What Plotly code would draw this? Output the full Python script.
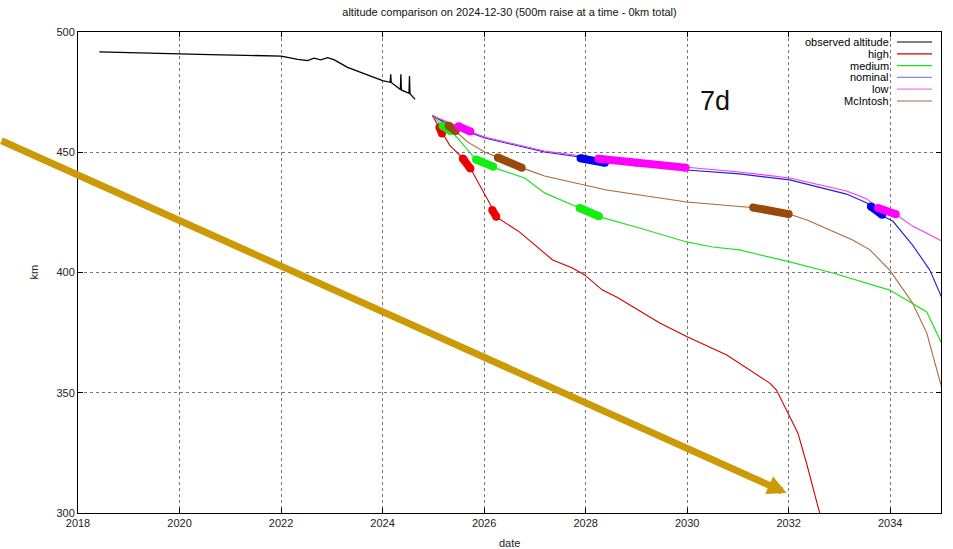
import plotly.graph_objects as go

# ---------------- data (decimal years, km) ----------------
obs_x = [2018.42, 2018.9, 2019.5, 2019.96, 2020.6, 2021.3, 2022.0, 2022.33, 2022.52, 2022.65, 2022.78,
         2022.92, 2023.05, 2023.31, 2023.70, 2024.0, 2024.15, 2024.16, 2024.17, 2024.35, 2024.36, 2024.37,
         2024.52, 2024.53, 2024.54, 2024.64]
obs_y = [491.7, 491.4, 491.2, 490.9, 490.6, 490.3, 490.0, 488.6, 488.1, 489.1, 488.4,
         489.3, 488.4, 485.3, 482.1, 479.8, 479.1, 482.4, 479.0, 476.1, 482.4, 475.9,
         474.5, 481.7, 474.3, 472.0]

high_x = [2024.985, 2025.12, 2025.32, 2025.56, 2025.75, 2025.91, 2026.07, 2026.27, 2026.70, 2027.35,
          2027.74, 2027.98, 2028.33, 2028.61, 2029.46, 2030.01, 2030.78, 2031.62, 2031.76, 2032.02,
          2032.18, 2032.35, 2032.61, 2032.71]
high_y = [465.1, 460.1, 453.0, 448.0, 442.6, 436.4, 430.1, 422.7, 416.8, 405.2,
          401.9, 399.0, 392.7, 389.8, 379.0, 373.2, 365.7, 354.1, 351.1, 339.9,
          333.3, 320.8, 300.0, 288.8]

medium_x = [2024.985, 2025.16, 2025.36, 2025.48, 2025.81, 2026.21, 2026.80, 2027.19, 2027.88, 2028.28,
            2029.06, 2029.99, 2030.50, 2031.03, 2032.02, 2032.87, 2033.99, 2034.44, 2034.72, 2035.01]
medium_y = [465.3, 461.4, 458.4, 455.9, 447.6, 443.5, 439.3, 433.1, 426.8, 423.1,
            418.5, 412.7, 410.6, 409.4, 404.4, 399.8, 392.7, 386.9, 383.6, 370.7]

nominal_x = [2024.985, 2025.42, 2026.01, 2027.19, 2028.02, 2028.28, 2029.06, 2029.99, 2031.03, 2032.02,
             2033.14, 2033.54, 2033.69, 2033.85, 2034.05, 2034.44, 2034.78, 2035.01]
nominal_y = [465.1, 460.5, 455.9, 450.1, 447.6, 446.4, 444.7, 442.6, 441.0, 438.5,
             432.6, 428.9, 426.0, 423.5, 421.4, 411.4, 401.0, 389.8]

low_x = [2024.985, 2025.48, 2025.75, 2026.01, 2027.19, 2028.02, 2028.22, 2029.06, 2029.99, 2031.03,
         2032.02, 2033.14, 2033.54, 2033.74, 2034.13, 2034.44, 2035.01]
low_y = [465.1, 461.0, 458.4, 456.3, 450.5, 448.0, 447.6, 445.5, 443.9, 441.8,
         439.3, 433.9, 430.6, 427.2, 423.9, 419.3, 413.1]

mcintosh_x = [2024.985, 2025.28, 2025.46, 2025.67, 2026.01, 2026.25, 2026.76, 2027.19, 2028.41, 2029.99,
              2031.03, 2031.27, 2032.02, 2032.36, 2032.81, 2033.26, 2033.60, 2033.99, 2034.44, 2034.72, 2035.01]
mcintosh_y = [465.5, 461.3, 458.4, 454.3, 450.1, 448.0, 443.4, 440.1, 434.3, 429.3,
              427.2, 427.0, 424.2, 421.8, 417.7, 413.5, 409.4, 401.0, 387.3, 374.8, 352.4]

# thick (highlighted) stretches of each projection
high_thick_x = [2025.12, 2025.17, None, 2025.58, 2025.73, None, 2026.16, 2026.24]
high_thick_y = [460.4, 457.8, None, 447.4, 443.2, None, 426.0, 423.2]
medium_thick_x = [2025.18, 2025.34, None, 2025.84, 2026.18, None, 2027.88, 2028.26]
medium_thick_y = [461.0, 458.8, None, 447.0, 444.0, None, 426.8, 423.4]
mcintosh_thick_x = [2025.30, 2025.44, None, 2026.27, 2026.74, None, 2031.30, 2032.00]
mcintosh_thick_y = [461.0, 458.8, None, 447.8, 443.6, None, 427.0, 424.3]
nominal_thick_x = [2027.90, 2028.38, None, 2033.62, 2033.84]
nominal_thick_y = [447.5, 445.6, None, 427.4, 424.0]
low_thick_x = [2025.50, 2025.73, None, 2028.25, 2029.0, 2029.97, None, 2033.76, 2034.11]
low_thick_y = [460.8, 458.6, None, 447.3, 445.6, 443.6, None, 426.8, 424.2]

series_names = ["observed altitude", "high", "medium", "nominal", "low", "McIntosh"]
legend_colors = ["#000000", "#cc0000", "#22dd22", "#8888ee", "#ee77ee", "#a06a40"]

x_ticks = [2018, 2020, 2022, 2024, 2026, 2028, 2030, 2032, 2034]
y_ticks = [300, 350, 400, 450, 500]

# ---------------- figure ----------------
FONT = "Liberation Sans, Arial, Helvetica, sans-serif"
fig = go.Figure()

def line(x, y, color, width):
    fig.add_trace(go.Scatter(x=x, y=y, mode="lines", line=dict(color=color, width=width),
                             hoverinfo="skip", showlegend=False, connectgaps=False))

def thick(x, y, color):
    fig.add_trace(go.Scatter(x=x, y=y, mode="lines+markers", line=dict(color=color, width=8),
                             marker=dict(color=color, size=8, line=dict(width=0)),
                             hoverinfo="skip", showlegend=False, connectgaps=False))

line(obs_x, obs_y, "#000000", 1.3)
line(mcintosh_x, mcintosh_y, "#a5693a", 1.1)
line(high_x, high_y, "#d40000", 1.1)
line(medium_x, medium_y, "#22e022", 1.2)
line(nominal_x, nominal_y, "#2020d8", 1.1)
line(low_x, low_y, "#f03cf0", 1.1)

thick(high_thick_x, high_thick_y, "#ee0000")
thick(medium_thick_x, medium_thick_y, "#11ee11")
thick(mcintosh_thick_x, mcintosh_thick_y, "#9a4a08")
thick(nominal_thick_x, nominal_thick_y, "#0000ee")
thick(low_thick_x, low_thick_y, "#ff00ff")

L, R, T, B = 78, 12, 32, 36
W, H = 953, 549
pw, ph = W - L - R, H - T - B

def px(xp):
    return (xp - L) / pw

def py(yp):
    return (H - B - yp) / ph

axis_common = dict(showline=True, linecolor="#000000", linewidth=1, mirror="allticks",
                   ticks="inside", ticklen=5, tickcolor="#000000",
                   showgrid=True, gridcolor="#777777", griddash="dot", gridwidth=1,
                   zeroline=False, tickfont=dict(family=FONT, size=11, color="#222222"))

fig.update_xaxes(range=[2018, 2035], tickvals=x_ticks, ticktext=[str(v) for v in x_ticks], **axis_common)
fig.update_yaxes(range=[300, 500], tickvals=y_ticks, ticktext=[str(v) for v in y_ticks], **axis_common)

annotations = []
shapes = []
# legend (text right-aligned, sample line to the right)
for i, (name, col) in enumerate(zip(series_names, legend_colors)):
    yp = 42 + 11.8 * i
    annotations.append(dict(x=px(891), y=py(yp), xref="paper", yref="paper", text=name,
                            showarrow=False, xanchor="right", yanchor="middle",
                            font=dict(family=FONT, size=11, color="#000000")))
    shapes.append(dict(type="line", xref="paper", yref="paper", x0=px(897), x1=px(932),
                       y0=py(yp), y1=py(yp), line=dict(color=col, width=1.2)))

# axis titles
annotations.append(dict(x=0.5, y=py(543), xref="paper", yref="paper", text="date", showarrow=False,
                        xanchor="center", yanchor="middle", font=dict(family=FONT, size=11, color="#222222")))
annotations.append(dict(x=px(33), y=0.5, xref="paper", yref="paper", text="km", showarrow=False,
                        textangle=-90, xanchor="center", yanchor="middle",
                        font=dict(family=FONT, size=11, color="#222222")))
# big label
annotations.append(dict(x=2030.55, y=471.3, xref="x", yref="y", text="7d", showarrow=False,
                        xanchor="center", yanchor="middle", font=dict(family=FONT, size=27, color="#111111")))
# gold arrow
annotations.append(dict(x=2031.96, y=308.3, xref="x", yref="y", text="", showarrow=True,
                        ax=-797, ay=-353, axref="pixel", ayref="pixel",
                        arrowhead=2, arrowsize=0.55, arrowwidth=7, arrowcolor="#cc9a06"))

fig.update_layout(
    width=W, height=H,
    margin=dict(l=L, r=R, t=T, b=B),
    plot_bgcolor="#ffffff", paper_bgcolor="#ffffff",
    showlegend=False,
    title=dict(text="altitude comparison on 2024-12-30 (500m raise at a time - 0km total)",
               x=0.5, xref="paper", xanchor="center", y=1 - 12 / H, yref="container", yanchor="middle",
               font=dict(family=FONT, size=11, color="#111111")),
    annotations=annotations,
    shapes=shapes,
)

fig.write_html("out.html", config={"displayModeBar": False},
               post_script="document.body.style.margin='0';document.body.style.overflow='hidden';")
